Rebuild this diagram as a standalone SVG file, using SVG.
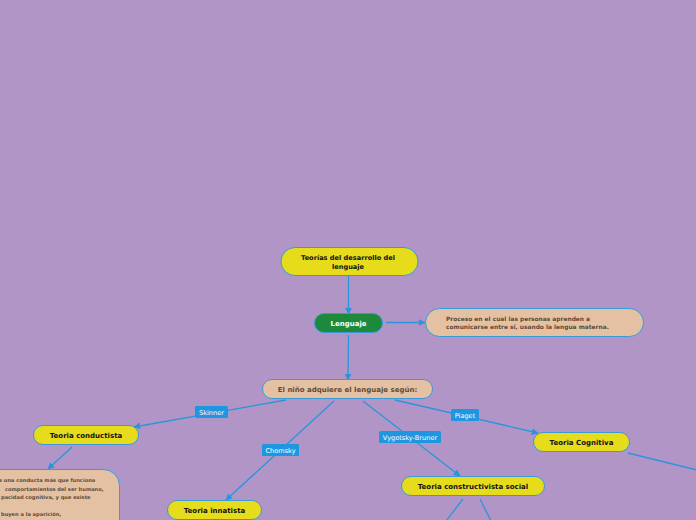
<svg xmlns="http://www.w3.org/2000/svg" width="696" height="520" viewBox="0 0 696 520">
<defs>
<style>
.bg{fill:#b195c7}
.y{fill:#e6dc1c;stroke:#3a9ad8;stroke-width:1}
.g{fill:#1d8a3b;stroke:#3a9ad8;stroke-width:1}
.t{fill:#e4c1a2;stroke:#3a9ad8;stroke-width:1}
.c{stroke:#2a95dc;stroke-width:1.3;fill:none}
.lb{fill:#1f97e0}
.tx{font-family:"DejaVu Sans",Verdana,sans-serif;font-weight:bold;font-size:7px}
.sm{font-size:5.9px}
.xs{font-size:5.1px}
.dk{fill:#111}
.br{fill:#5c4b3c}
.wt{fill:#fff}
.lt{font-family:"DejaVu Sans",Verdana,sans-serif;font-size:6.6px;fill:#fff}
</style>
<marker id="ah" viewBox="0 0 10 10" refX="9" refY="5" markerWidth="7" markerHeight="7" orient="auto" markerUnits="userSpaceOnUse">
<path d="M0,0 L10,5 L0,10 z" fill="#2a95dc"/>
</marker>
</defs>
<rect class="bg" x="0" y="0" width="696" height="520"/>
<g id="connectors">
<line class="c" x1="348.5" y1="276" x2="348.5" y2="314" marker-end="url(#ah)"/>
<line class="c" x1="386" y1="322.5" x2="425" y2="322.5" marker-end="url(#ah)"/>
<line class="c" x1="348.5" y1="335" x2="348" y2="380" marker-end="url(#ah)"/>
<line class="c" x1="286" y1="400" x2="134" y2="427" marker-end="url(#ah)"/>
<line class="c" x1="334" y1="401" x2="226" y2="500" marker-end="url(#ah)"/>
<line class="c" x1="363" y1="401" x2="460" y2="476" marker-end="url(#ah)"/>
<line class="c" x1="395" y1="400" x2="538" y2="433" marker-end="url(#ah)"/>
<line class="c" x1="72" y1="447" x2="48" y2="469" marker-end="url(#ah)"/>
<line class="c" x1="463" y1="499" x2="446" y2="521"/>
<line class="c" x1="480" y1="499" x2="491" y2="521"/>
<line class="c" x1="628" y1="453" x2="697" y2="470"/>
<g id="lbl-skinner"><rect class="lb" x="195" y="406" width="33" height="12" rx="1.5"/><text class="lt" x="211.5" y="414.5" text-anchor="middle">Skinner</text></g>
<g id="lbl-chomsky"><rect class="lb" x="262" y="444" width="37" height="12" rx="1.5"/><text class="lt" x="280.5" y="452.5" text-anchor="middle">Chomsky</text></g>
<g id="lbl-vygotsky"><rect class="lb" x="379" y="431" width="62" height="12" rx="1.5"/><text class="lt" x="410" y="439.5" text-anchor="middle">Vygotsky-Bruner</text></g>
<g id="lbl-piaget"><rect class="lb" x="451" y="409" width="28" height="12" rx="1.5"/><text class="lt" x="465" y="417.5" text-anchor="middle">Piaget</text></g>
</g>
<g id="n-teorias">
<rect class="y" x="281" y="247.5" width="137" height="28" rx="14"/>
<text class="tx dk" x="348" y="260" text-anchor="middle" style="font-size:6.6px">Teorías del desarrollo del</text>
<text class="tx dk" x="348" y="269" text-anchor="middle" style="font-size:6.6px">lenguaje</text>
</g>
<g id="n-lenguaje">
<rect class="g" x="314.5" y="313.5" width="68" height="19" rx="9.5"/>
<text class="tx wt" x="348.5" y="325.5" text-anchor="middle">Lenguaje</text>
</g>
<g id="n-proceso">
<rect class="t" x="425.5" y="308.5" width="218" height="28" rx="14"/>
<text class="tx sm br" x="446" y="320.5">Proceso en el cual las personas aprenden a</text>
<text class="tx sm br" x="446" y="329">comunicarse entre sí, usando la lengua materna.</text>
</g>
<g id="n-nino">
<rect class="t" x="262.5" y="379.5" width="170" height="19" rx="9.5"/>
<text class="tx br" x="347.5" y="391.5" text-anchor="middle">El niño adquiere el lenguaje según:</text>
</g>
<g id="n-conductista">
<rect class="y" x="33.5" y="425.5" width="105" height="19" rx="9.5"/>
<text class="tx dk" x="86" y="437.5" text-anchor="middle">Teoria conductista</text>
</g>
<g id="n-conductista-desc">
<rect class="t" x="-40" y="469.5" width="159.5" height="80" rx="16"/>
<text class="tx xs br" x="-1" y="482">s una conducta más que funciona</text>
<text class="tx xs br" x="5" y="491">comportamientos del ser humano,</text>
<text class="tx xs br" x="1" y="499">pacidad cognitiva, y que existe</text>
<text class="tx xs br" x="1" y="516">buyen a la aparición,</text>
</g>
<g id="n-innatista">
<rect class="y" x="167.5" y="500.5" width="94" height="19" rx="9.5"/>
<text class="tx dk" x="214.5" y="512.5" text-anchor="middle">Teoria innatista</text>
</g>
<g id="n-constructivista">
<rect class="y" x="401.5" y="476.5" width="143" height="19" rx="9.5"/>
<text class="tx dk" x="473" y="488.5" text-anchor="middle">Teoria constructivista social</text>
</g>
<g id="n-cognitiva">
<rect class="y" x="533.5" y="432.5" width="96" height="19" rx="9.5"/>
<text class="tx dk" x="581.5" y="444.5" text-anchor="middle">Teoria Cognitiva</text>
</g>
</svg>
